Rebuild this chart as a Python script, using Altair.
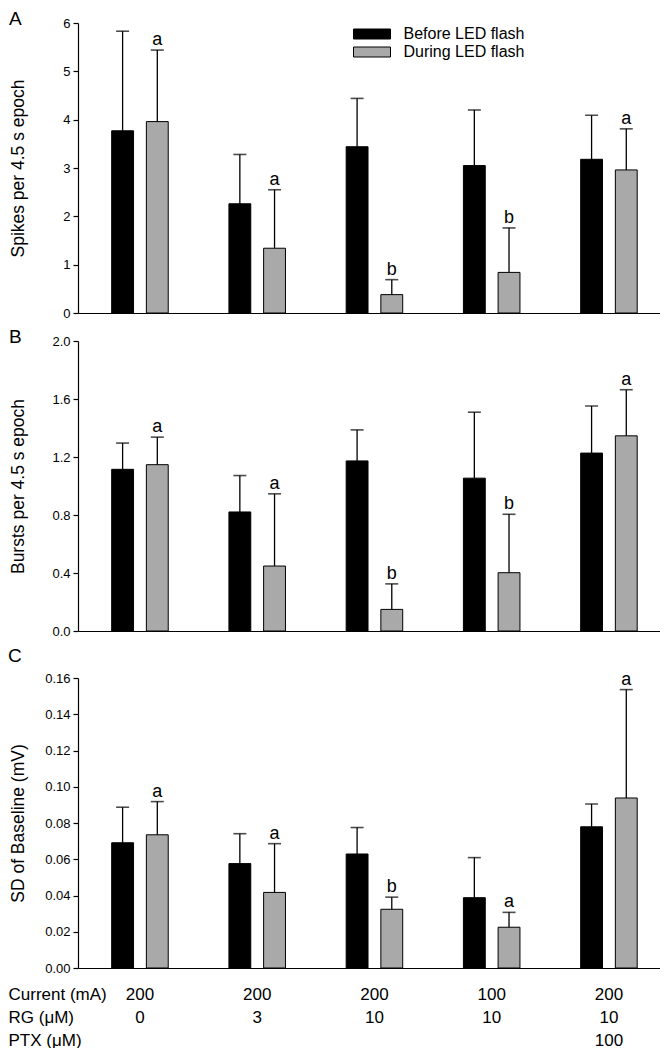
import altair as alt
import pandas as pd

# ---- categories ----
current_mA = ["200", "200", "200", "100", "200"]
rg_uM = ["0", "3", "10", "10", "10"]
ptx_uM = ["", "", "", "", "100"]
series_names = ["Before LED flash", "During LED flash"]
row_names = ["Current (mA)", "RG (\u03bcM)", "PTX (\u03bcM)"]

# ---- panel A: spikes ----
spikes_before = [3.77, 2.26, 3.44, 3.05, 3.18]
spikes_before_hi = [5.83, 3.28, 4.44, 4.20, 4.09]
spikes_during = [3.96, 1.34, 0.38, 0.84, 2.96]
spikes_during_hi = [5.44, 2.55, 0.69, 1.76, 3.81]
spikes_letters = ["a", "a", "b", "b", "a"]

# ---- panel B: bursts ----
bursts_before = [1.115, 0.821, 1.173, 1.054, 1.227]
bursts_before_hi = [1.296, 1.072, 1.387, 1.509, 1.552]
bursts_during = [1.147, 0.448, 0.149, 0.402, 1.346]
bursts_during_hi = [1.337, 0.946, 0.325, 0.805, 1.664]
bursts_letters = ["a", "a", "b", "b", "a"]

# ---- panel C: SD of baseline ----
sd_before = [0.0691, 0.0576, 0.0629, 0.0388, 0.0779]
sd_before_hi = [0.0887, 0.0741, 0.0775, 0.0609, 0.0905]
sd_during = [0.0735, 0.0417, 0.0324, 0.0225, 0.0938]
sd_during_hi = [0.0918, 0.0686, 0.0391, 0.0307, 0.1536]
sd_letters = ["a", "a", "b", "a", "a"]

FONT = "Liberation Sans, Arial, Helvetica, sans-serif"
W, H = 582, 290
group_labels = [f"{current_mA[i]}|{rg_uM[i]}|{ptx_uM[i]}" for i in range(5)]


def panel(before, before_hi, during, during_hi, letters, ytitle, ymax, yvals,
          yfmt, letter, title_offset, bottom, legend):
    rows = []
    for i in range(5):
        rows.append(dict(grp=group_labels[i], series=series_names[0],
                         value=before[i], hi=before_hi[i], letter=""))
        rows.append(dict(grp=group_labels[i], series=series_names[1],
                         value=during[i], hi=during_hi[i], letter=letters[i]))
    df = pd.DataFrame(rows)

    if bottom:
        xaxis = alt.Axis(
            labelExpr="split(datum.label, '|')", labelAngle=0, ticks=False,
            labelFontSize=17, labelLineHeight=23, labelPadding=18,
            labelColor="black", domainColor="black", domainWidth=1.2,
            labelOverlap=False,
            title=row_names, titleX=-70, titleY=18, titleAlign="left",
            titleBaseline="top", titleFontSize=17, titleFontWeight="normal",
            titleLineHeight=23, titleColor="black", titleAngle=0)
    else:
        xaxis = alt.Axis(labels=False, ticks=False, title=None,
                         domainColor="black", domainWidth=1.2)

    x = alt.X("grp:N", sort=group_labels, axis=xaxis,
              scale=alt.Scale(paddingInner=0.5, paddingOuter=0.232, align=0.6))
    xo = alt.XOffset("series:N", sort=series_names,
                     scale=alt.Scale(paddingInner=0.37, paddingOuter=0.03))
    yaxis = alt.Axis(values=yvals, tickCount=len(yvals), format=yfmt,
                     title=ytitle, grid=False,
                     titleFontSize=17.5, titleFontWeight="normal",
                     titleColor="black", titleX=-60, titleY=H / 2,
                     titleAngle=270, titleAlign="center", titleBaseline="middle",
                     labelFontSize=13, labelColor="black", labelPadding=3,
                     labelOverlap=False,
                     tickSize=5, tickColor="black", domainColor="black",
                     domainWidth=1.2, tickWidth=1.2)
    y = alt.Y("value:Q", axis=yaxis,
              scale=alt.Scale(domain=[0, ymax], nice=False, zero=True))

    if legend:
        leg = alt.Legend(title=None, orient="none", legendX=286, legendY=3,
                         symbolType="M-3.7,-1H3.7V1H-3.7Z", symbolSize=100,
                         symbolStrokeColor="black", symbolStrokeWidth=1,
                         labelFontSize=16, labelColor="black",
                         labelOffset=23.5, rowPadding=2)
    else:
        leg = None
    color = alt.Color("series:N", sort=series_names,
                      scale=alt.Scale(domain=series_names,
                                      range=["#000000", "#a9a9a9"]),
                      legend=leg)

    base = alt.Chart(df)
    bars = base.mark_bar(stroke="black", strokeWidth=1).encode(
        x=x, xOffset=xo, y=y, color=color)
    rules = base.mark_rule(color="black", strokeWidth=1.3).encode(
        x=x, xOffset=xo, y="value:Q", y2="hi:Q")
    caps = base.mark_tick(orient="horizontal", size=13, thickness=1.6,
                          color="black").encode(x=x, xOffset=xo, y="hi:Q")
    texts = base.transform_filter("datum.letter != ''").mark_text(
        baseline="alphabetic", dy=-5, fontSize=18, color="black").encode(
        x=x, xOffset=xo, y="hi:Q", text="letter:N")

    return alt.layer(bars, rules, caps, texts).properties(
        width=W, height=H,
        title=alt.TitleParams(text=letter, anchor="start", frame="bounds",
                              fontSize=19, fontWeight="normal", color="black",
                              offset=title_offset))


pA = panel(spikes_before, spikes_before_hi, spikes_during, spikes_during_hi,
           spikes_letters, "Spikes per 4.5 s epoch", 6, [0, 1, 2, 3, 4, 5, 6],
           "d", "A", -12, False, True)
pB = panel(bursts_before, bursts_before_hi, bursts_during, bursts_during_hi,
           bursts_letters, "Bursts per 4.5 s epoch", 2.0,
           [0, 0.4, 0.8, 1.2, 1.6, 2.0], ".1f", "B", -12, False, False)
pC = panel(sd_before, sd_before_hi, sd_during, sd_during_hi, sd_letters,
           "SD of Baseline (mV)", 0.16,
           [0, 0.02, 0.04, 0.06, 0.08, 0.10, 0.12, 0.14, 0.16], ".2f", "C",
           5, True, False)

chart = alt.vconcat(pA, pB, pC, spacing=8).resolve_scale(
    y="independent", color="independent").properties(
    padding={"left": 0, "top": 2, "right": 0, "bottom": 0}).configure(
    font=FONT).configure_view(stroke=None)

chart.save("out.html", embed_options={"renderer": "svg", "actions": False})
